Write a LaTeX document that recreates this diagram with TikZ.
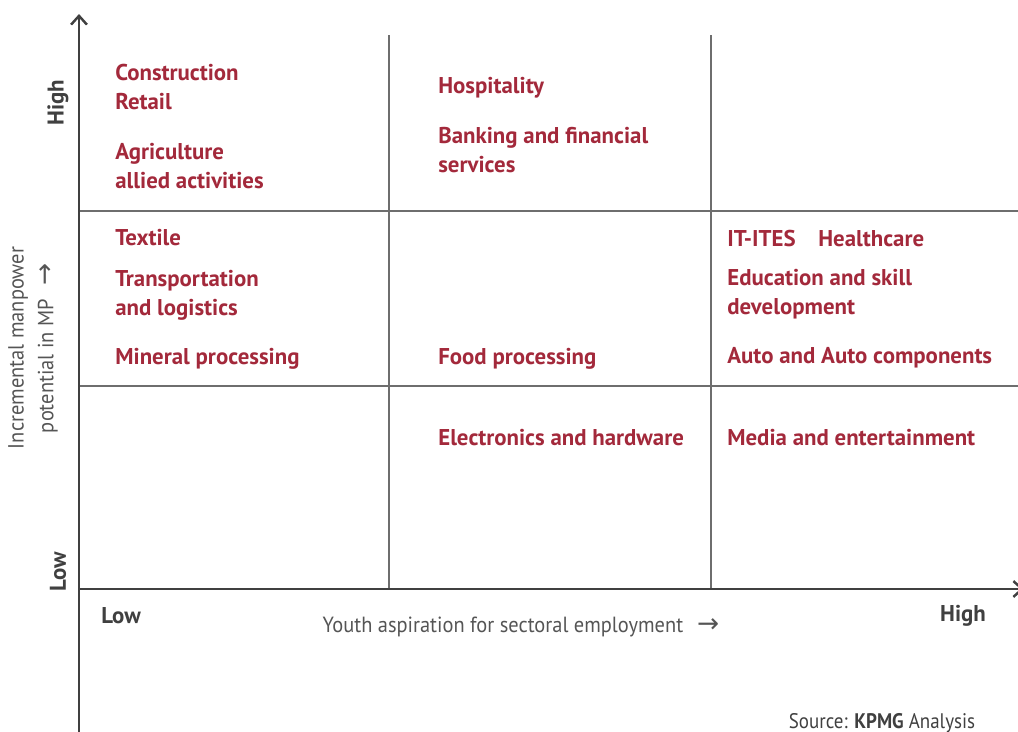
\documentclass[tikz,border=0pt]{standalone}
\usepackage{fontspec}
\setmainfont{PT Sans}
\newfontfamily\arrowfont{DejaVu Sans}
\usetikzlibrary{arrows.meta}

\definecolor{sectorred}{HTML}{A3293B}
\definecolor{axisgray}{HTML}{404040}
\definecolor{gridgray}{HTML}{6E6E6E}
\definecolor{labelgray}{HTML}{555555}

\newcommand{\titlearrow}{\hspace{8pt}{\arrowfont\fontsize{15}{15}\selectfont →}}

\tikzset{
  sector/.style={anchor=base west, inner sep=0pt, text=sectorred,
    font=\fontsize{13}{15}\selectfont\bfseries},
  level/.style={inner sep=0pt, text=axisgray,
    font=\fontsize{13}{15}\selectfont\bfseries},
  axislabel/.style={inner sep=0pt, text=labelgray,
    font=\fontsize{12.5}{17}\selectfont\addfontfeature{FakeStretch=0.93}},
  axisline/.style={draw=axisgray, line width=1.4pt},
  gridline/.style={draw=gridgray, line width=0.8pt}
}

\begin{document}
\begin{tikzpicture}[x=0.02cm, y=-0.02cm]
        \useasboundingbox (0,0) rectangle (1018,731);

        % quadrant grid
        \coordinate (v1t) at (389,35);
        \coordinate (v1b) at (389,589);
        \coordinate (v2t) at (711,35);
        \coordinate (v2b) at (711,589);
        \coordinate (h1l) at (79,211);
        \coordinate (h1r) at (1018,211);
        \coordinate (h2l) at (79,386);
        \coordinate (h2r) at (1018,386);
        \draw[gridline] (v1t) -- (v1b);
        \draw[gridline] (v2t) -- (v2b);
        \draw[gridline] (h1l) -- (h1r);
        \draw[gridline] (h2l) -- (h2r);

        % axes
        \coordinate (O) at (79,589);
        \coordinate (ybot) at (79,735);
        \coordinate (ytop) at (79,14);
        \coordinate (xright) at (1024,589);
        \draw[axisline, -{Straight Barb[length=5pt,width=9pt]}] (ybot) -- (ytop);
        \draw[axisline, -{Straight Barb[length=5pt,width=9pt]}] (O) -- (xright);

        % axis levels
        \node[level, rotate=90] at (58,103) (yhigh) {High};
        \node[level, rotate=90] at (58,572) (ylow) {Low};
        \node[level] at (121,616) (xlow) {Low};
        \node[level] at (963,616) (xhigh) {High};

        % axis titles
        \node[axislabel] at (521,627) (xtitle) {Youth aspiration for sectoral employment\titlearrow};
        \node[axislabel, rotate=90, align=center] at (33,348) (ytitle)
            {Incremental manpower\\potential in MP\titlearrow};

        % top row
        \node[sector] at (115,80) (constr) {Construction};
        \node[sector] at (115,109) (retail) {Retail};
        \node[sector] at (115,159) (agri) {Agriculture};
        \node[sector] at (115,188) (allied) {allied activities};
        \node[sector] at (438,93) (hosp) {Hospitality};
        \node[sector] at (438,143) (bank) {Banking and financial};
        \node[sector] at (438,172) (serv) {services};

        % middle row
        \node[sector] at (115,245) (text) {Textile};
        \node[sector] at (115,286) (trans) {Transportation};
        \node[sector] at (115,315) (logi) {and logistics};
        \node[sector] at (115,364) (mineral) {Mineral processing};
        \node[sector] at (438,364) (food) {Food processing};
        \node[sector] at (727,246) (ites) {IT-ITES};
        \node[sector] at (818,246) (health) {Healthcare};
        \node[sector] at (727,285) (edu) {Education and skill};
        \node[sector] at (727,314) (dev) {development};
        \node[sector] at (727,363) (auto) {Auto and Auto components};

        % bottom row
        \node[sector] at (438,445) (elec) {Electronics and hardware};
        \node[sector] at (727,445) (media) {Media and entertainment};

        % source
        \node[axislabel, text=axisgray, font=\fontsize{12}{14}\selectfont\addfontfeature{FakeStretch=0.9}]
            at (882,723) (source) {Source: \textbf{KPMG} Analysis};
    \end{tikzpicture}
\end{document}
